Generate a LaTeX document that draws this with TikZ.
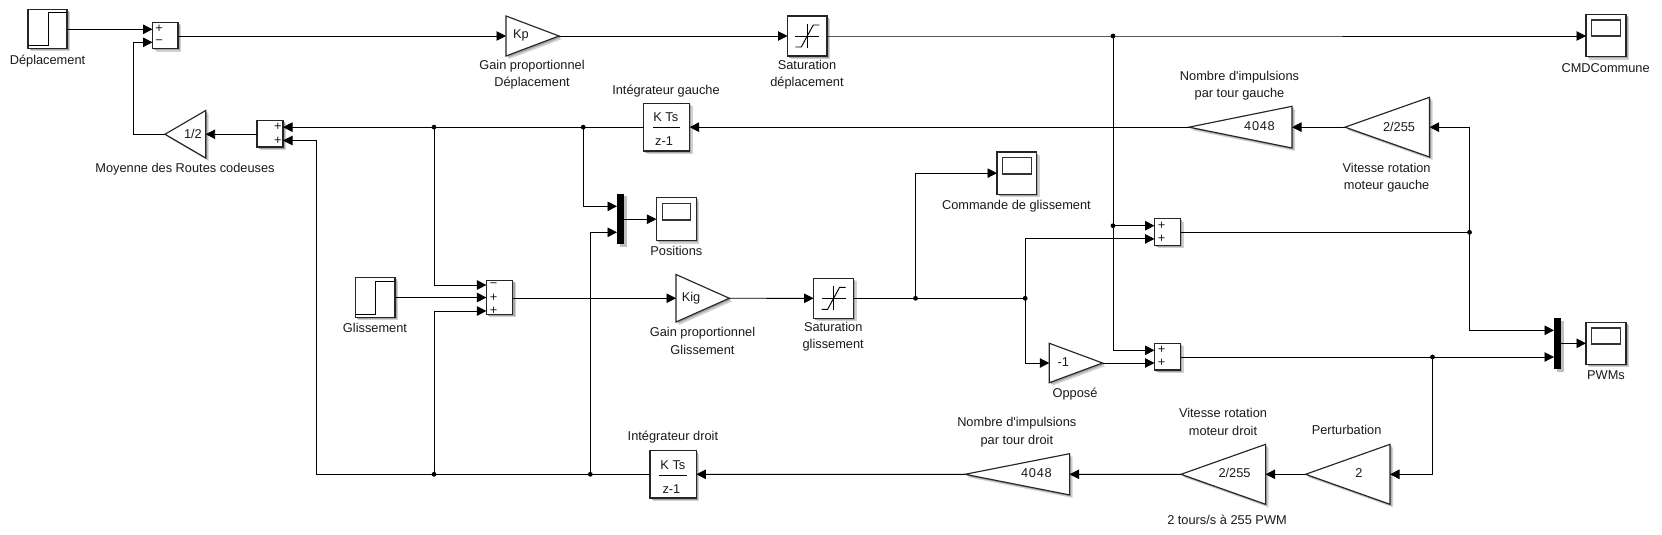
\documentclass[tikz,border=0pt]{standalone}
\usepackage{fontspec}
\newfontfamily\lf{Liberation Sans}
\usetikzlibrary{arrows.meta,calc}
\definecolor{ink}{HTML}{1A1A1A}
\tikzset{
  wire/.style={line width=0.95pt,draw=black},
  arr/.style={wire,-{Triangle[length=9.5pt,width=9.5pt]}},
  frame/.style={line width=1.15pt,draw=black!85,line join=miter,fill=white,
    preaction={draw=none,fill=black!18,transform canvas={shift={(3pt,-3pt)}}},
    preaction={draw=none,fill=black!35,transform canvas={shift={(1.6pt,-1.6pt)}}}},
  port/.style={inner sep=0pt,outer sep=0pt,draw=none},
  lbl/.style={font=\lf\fontsize{12.8}{17.3}\selectfont,text=ink,align=center,inner sep=0pt},
  dot/.style={circle,fill=black,inner sep=0pt,minimum size=4.8pt},
  thin frame/.style={line width=1.1pt,draw=black!80},
  icon/.style={line width=0.95pt,draw=black},
  muxbar/.style={fill=black,draw=none,
    preaction={draw=none,fill=black!25,transform canvas={shift={(2.5pt,-2.5pt)}}}},
}
% invisible node of given extents: name, left, top, right, bottom
\newcommand{\mkport}[5]{%
  \pgfmathsetmacro\mkW{#4-(#2)}\pgfmathsetmacro\mkH{#5-(#3)}%
  \pgfmathsetmacro\mkX{(#2+#4)/2}\pgfmathsetmacro\mkY{(#3+#5)/2}%
  \node[port,minimum width=\mkW pt,minimum height=\mkH pt] (#1) at (\mkX,\mkY) {};}
\newcommand{\mkbox}[5]{\mkport{#1}{#2}{#3}{#4}{#5}%
  \draw[frame] (#1.north west) rectangle (#1.south east);}
\newcommand{\mkright}[5]{\mkport{#1}{#2}{#3}{#4}{#5}%
  \draw[frame] (#1.north west) -- (#1.east) -- (#1.south west) -- cycle;}
\newcommand{\mkleft}[5]{\mkport{#1}{#2}{#3}{#4}{#5}%
  \draw[frame] (#1.north east) -- (#1.west) -- (#1.south east) -- cycle;}
% scope: name l t r b, screen t b
\newcommand{\mkscope}[7]{\mkbox{#1}{#2}{#3}{#4}{#5}%
  \draw[thin frame] ($(#2+5.7,#6)$) rectangle ($(#4-5.7,#7)$);}
\newcommand{\mkstep}[8]{\mkbox{#1}{#2}{#3}{#4}{#5}%
  \draw[icon] (#2,#8) -- (#6,#8) -- (#6,#7) -- (#4,#7);}
\newcommand{\mksat}[5]{\mkbox{#1}{#2}{#3}{#4}{#5}%
  \draw[icon] ([xshift=-12pt]#1.center) -- ([xshift=12pt]#1.center);
  \draw[icon] ([yshift=12pt]#1.center) -- ([yshift=-12pt]#1.center);
  \draw[icon] ([xshift=-12pt,yshift=-11pt]#1.center) -- ([xshift=-6pt,yshift=-11pt]#1.center) -- ([xshift=6pt,yshift=11pt]#1.center) -- ([xshift=12pt,yshift=11pt]#1.center);}
\newcommand{\digs}{4\kern0.7pt 0\kern0.7pt 4\kern0.7pt 8}
\begin{document}
\begin{tikzpicture}[x=1pt,y=-1pt]
\useasboundingbox (0,0) rectangle (1662,535);
\fill[white] (0,0) rectangle (1662,535);

% --- blocks
\mkstep{st1}{28}{9.3}{67}{48.3}{48.2}{12.7}{45}
\node[lbl] (lst1) at (47.5,60.7) {Déplacement};
\mkbox{s1}{152.5}{22.3}{178}{48.7}
\node[lbl] (s1p) at (159,29.3) {+};
\node[lbl] (s1m) at (159,42.3) {−};
\mkright{kp}{506}{16}{559}{56}
\node[lbl] (tkp) at (521,35.5) {Kp};
\node[lbl] (lkp) at (532,75) {Gain proportionnel\\Déplacement};
\mksat{sat1}{787.5}{16}{827}{56}
\node[lbl] (lsat1) at (807,75) {Saturation\\déplacement};
\mkscope{cmd}{1586}{14.3}{1626}{56.7}{20}{36}
\node[lbl] (lcmd) at (1605.6,68.3) {CMDCommune};

\mkleft{n1}{1189}{106.3}{1292}{148}
\node[lbl] (tn1) at (1259.5,126.5) {\digs};
\node[lbl] (ln1) at (1239.5,85.5) {Nombre d'impulsions\\par tour gauche};
\mkleft{g1}{1345}{97.3}{1429.5}{157}
\node[lbl] (tg1) at (1399,126.5) {2/255};
\node[lbl] (lg1) at (1386.6,178) {Vitesse rotation\\moteur gauche};
\mkbox{ig}{643.6}{103.3}{689.6}{151}
\node[lbl] (tig1) at (665.7,117.3) {K Ts};
\draw[wire] (652.5,127.3) -- (679.6,127.3);
\node[lbl] (tig2) at (664,140.7) {z-1};
\node[lbl] (lig) at (666,90.7) {Intégrateur gauche};
\mkbox{s2}{257}{120.3}{283}{147}
\node[lbl] (s2p) at (277.9,127) {+};
\node[lbl] (s2q) at (277.9,140.5) {+};
\mkleft{k12}{165}{110.5}{205.7}{158}
\node[lbl] (tk12) at (192.9,133.7) {1/2};
\node[lbl] (lk12) at (185,169.3) {Moyenne des Routes codeuses};

\fill[muxbar] (617,193.7) rectangle (624.3,244);
\mkport{m1}{617}{193.7}{624.3}{244}
\mkscope{pos}{656.4}{197.7}{696.4}{240.7}{203.7}{220}
\node[lbl] (lpos) at (676.4,251) {Positions};
\mkscope{cs}{997}{152}{1036.8}{194.3}{157.7}{174}
\node[lbl] (lcs) at (1016.4,205.7) {Commande de glissement};

\mkstep{st2}{355.4}{277.7}{395}{317.3}{375.7}{281.3}{314.3}
\node[lbl] (lst2) at (375,328.3) {Glissement};
\mkbox{s5}{486.4}{280.3}{512.9}{314.3}
\node[lbl] (s5m) at (493.6,285) {−};
\node[lbl] (s5p) at (493.6,298.3) {+};
\node[lbl] (s5q) at (493.6,311) {+};
\mkright{kig}{676}{274.5}{729.3}{322}
\node[lbl] (tkig) at (691,297.7) {Kig};
\node[lbl] (lkig) at (702.5,341) {Gain proportionnel\\Glissement};
\mksat{sat2}{813.6}{278.3}{853.6}{318.3}
\node[lbl] (lsat2) at (833.2,336.8) {Saturation\\glissement};
\mkright{kn}{1049.3}{343.3}{1102.5}{382.7}
\node[lbl] (tkn) at (1063.2,362.3) {-1};
\node[lbl] (lkn) at (1075,394.3) {Opposé};
\mkbox{s3}{1154.5}{218.7}{1180.6}{245.3}
\node[lbl] (s3p) at (1161.5,225.7) {+};
\node[lbl] (s3q) at (1161.5,238.7) {+};
\mkbox{s4}{1154.5}{343.3}{1180.6}{370}
\node[lbl] (s4p) at (1161.5,350.3) {+};
\node[lbl] (s4q) at (1161.5,363.3) {+};
\fill[muxbar] (1554,318) rectangle (1561,369);
\mkport{m2}{1554}{318}{1561}{369}
\mkscope{pwm}{1586}{322.3}{1626}{364.3}{328}{344}
\node[lbl] (lpwm) at (1606,375.3) {PWMs};

\mkleft{p2}{1305.6}{444.3}{1390}{504.3}
\node[lbl] (tp2) at (1359,473.3) {2};
\node[lbl] (lp2) at (1346.6,430.3) {Perturbation};
\mkleft{g2}{1181}{444.3}{1265.6}{504.3}
\node[lbl] (tg2) at (1234.5,473.3) {2/255};
\node[lbl] (lg2) at (1223,422) {Vitesse rotation\\moteur droit};
\node[lbl] (lg3) at (1227,519.7) {2 tours/s à 255 PWM};
\mkleft{n2}{965}{453.7}{1069.6}{494.9}
\node[lbl] (tn2) at (1036.4,473.3) {\digs};
\node[lbl] (ln2) at (1016.8,432.2) {Nombre d'impulsions\\par tour droit};
\mkbox{id}{650}{450.6}{696.4}{498}
\node[lbl] (tid1) at (672.9,465.3) {K Ts};
\draw[wire] (659,475.3) -- (687,475.3);
\node[lbl] (tid2) at (671.4,488.7) {z-1};
\node[lbl] (lid) at (672.9,437.3) {Intégrateur droit};

% --- ports
\coordinate (s1a) at (152.5,29.3);
\coordinate (s1b) at (152.5,42.3);
\coordinate (s1o) at (178,36);
\coordinate (s2a) at (283,127.15);
\coordinate (s2b) at (283,140.5);
\coordinate (s2o) at (257,134.25);
\coordinate (s3a) at (1154.5,225.7);
\coordinate (s3b) at (1154.5,238.9);
\coordinate (s3o) at (1180.6,232.3);
\coordinate (s4a) at (1154.5,350.3);
\coordinate (s4b) at (1154.5,363);
\coordinate (s4o) at (1180.6,357);
\coordinate (s5a) at (486.4,285);
\coordinate (s5b) at (486.4,297.5);
\coordinate (s5c) at (486.4,311);
\coordinate (s5o) at (512.9,298.25);
\coordinate (m1a) at (617,206.3);
\coordinate (m1b) at (617,232.3);
\coordinate (m1o) at (624.3,219.2);
\coordinate (m2a) at (1554,330.3);
\coordinate (m2b) at (1554,357);
\coordinate (m2o) at (1561,343.3);

% --- junctions
\node[dot] (j1) at (1113,36) {};
\node[dot] (j3) at (1113,225.7) {};
\node[dot] (j4) at (1469.5,232.3) {};
\node[dot] (j5) at (583.2,127.15) {};
\node[dot] (j6) at (434,127.15) {};
\node[dot] (j7) at (434,474.3) {};
\node[dot] (j8) at (590.3,474.3) {};
\node[dot] (j9) at (915.5,298.3) {};
\node[dot] (j10) at (1025.2,298.3) {};
\node[dot] (j11) at (1432.5,357) {};

% --- connectors
\draw[arr] (st1.east |- s1a) -- (s1a);
\draw[arr] (s1o) -- (kp.west);
\draw[arr] (kp.east) -- (sat1.west);
\draw[arr] (sat1.east) -- (j1.center) -- (cmd.west |- j1);
\draw[arr] (j1.center) |- (s4a);
\draw[arr] (j3.center) -- (s3a);
\draw[wire] (s3o) -- (j4.center);
\draw[arr] (j4.center) |- (g1.east);
\draw[arr] (j4.center) |- (m2a);
\draw[arr] (g1.west) -- (n1.east);
\draw[arr] (n1.west) -- (ig.east);
\draw[arr] (ig.west) -- (s2a);
\draw[arr] (j6.center) |- (s5a);
\draw[arr] (j5.center) |- (m1a);
\draw[arr] (s2o) -- (k12.east);
\draw[arr] (k12.west) -- (133.2,134.25) |- (s1b);
\draw[arr] (id.west) -- (316.4,474.3) |- (s2b);
\draw[arr] (j7.center) |- (s5c);
\draw[arr] (j8.center) |- (m1b);
\draw[arr] (m1o) -- (pos.west);
\draw[arr] (st2.east) -- (s5b);
\draw[arr] (s5o) -- (kig.west);
\draw[arr] (kig.east) -- (sat2.west);
\draw[wire] (sat2.east) -- (j10.center);
\draw[arr] (j9.center) |- (cs.west);
\draw[arr] (j10.center) |- (s3b);
\draw[arr] (j10.center) |- (kn.west);
\draw[arr] (kn.east) -- (s4b);
\draw[arr] (s4o) -- (m2b);
\draw[arr] (j11.center) |- (p2.east);
\draw[arr] (p2.west) -- (g2.east);
\draw[arr] (g2.west) -- (n2.east);
\draw[arr] (n2.west) -- (id.east);
\draw[arr] (m2o) -- (pwm.west);
\end{tikzpicture}
\end{document}
